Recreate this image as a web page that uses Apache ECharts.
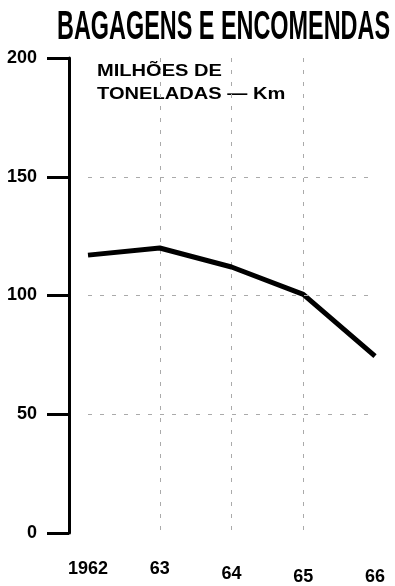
<!DOCTYPE html>
<html><head><meta charset="utf-8">
<script src="https://cdn.jsdelivr.net/npm/echarts@6/dist/echarts.min.js"></script>
<style>html,body{margin:0;padding:0;background:#fff}#c{width:395px;height:586px}</style>
</head><body><div id="c"></div>
<script>
const titleText = 'BAGAGENS E ENCOMENDAS';
const unitLines = ['MILHÕES DE', 'TONELADAS — Km'];
const categories = ['1962', '63', '64', '65', '66'];
const values = [117, 120, 112, 100.5, 74.5];
const yTicks = [0, 50, 100, 150, 200];
const gridValues = [50, 100, 150];

const labelDrop = [0, 0, 5, 8, 8];
const sans = "'Liberation Sans',Arial,sans-serif";
function measure(text, font) {
  const ctx = document.createElement('canvas').getContext('2d');
  ctx.font = font;
  return ctx.measureText(text).width;
}
const titleSize = 41;
const titleW = measure(titleText, 'bold ' + titleSize + 'px ' + sans);
const titleScale = 333 / titleW;
const unitSize = 16.5;
const unitW = measure(unitLines[0], 'bold ' + unitSize + 'px ' + sans);
const unitScale = 125 / unitW;

const chart = echarts.init(document.getElementById('c'));
chart.setOption({
  animation: false,
  backgroundColor: '#fff',
  graphic: [{
    type: 'text', x: 57, y: 28, scaleX: titleScale, scaleY: 1,
    style: {text: titleText, fontFamily: sans, fontWeight: 'bold', fontSize: titleSize,
      fill: '#000', textAlign: 'left', textVerticalAlign: 'middle'}
  }, {
    type: 'text', x: 97, y: 71, scaleX: unitScale, scaleY: 1,
    style: {text: unitLines[0], fontFamily: sans, fontWeight: 'bold', fontSize: unitSize,
      fill: '#000', textAlign: 'left', textVerticalAlign: 'middle'}
  }, {
    type: 'text', x: 97, y: 94, scaleX: unitScale, scaleY: 1,
    style: {text: unitLines[1], fontFamily: sans, fontWeight: 'bold', fontSize: unitSize,
      fill: '#000', textAlign: 'left', textVerticalAlign: 'middle'}
  }],
  grid: {left: 88, right: 20, top: 58, bottom: 52},
  xAxis: {
    type: 'category', boundaryGap: false,
    data: categories.map((c, i) => ({value: c, textStyle: {padding: [labelDrop[i], 0, 0, 0]}})),
    axisLine: {show: false}, axisTick: {show: false},
    axisLabel: {margin: 27, fontFamily: sans, fontWeight: 'bold', fontSize: 18, color: '#000'},
    splitLine: {show: true, interval: (i) => i >= 1 && i <= 3,
      lineStyle: {color: '#aaa', type: [4, 8], width: 1}}
  },
  yAxis: {
    type: 'value', min: yTicks[0], max: yTicks[yTicks.length - 1], interval: 50, offset: 19,
    axisLine: {show: true, lineStyle: {color: '#000', width: 3}},
    axisTick: {show: true, length: 22, lineStyle: {color: '#000', width: 3}},
    axisLabel: {margin: 32, fontFamily: sans, fontWeight: 'bold', fontSize: 18, color: '#000'},
    splitLine: {show: false}
  },
  series: [{
    type: 'line', data: values, symbol: 'none',
    lineStyle: {color: '#000', width: 5},
    markLine: {
      silent: true, symbol: 'none', label: {show: false},
      lineStyle: {color: '#aaa', type: [4, 8], width: 1},
      data: gridValues.map(v => ({yAxis: v}))
    }
  }]
});
</script></body></html>
